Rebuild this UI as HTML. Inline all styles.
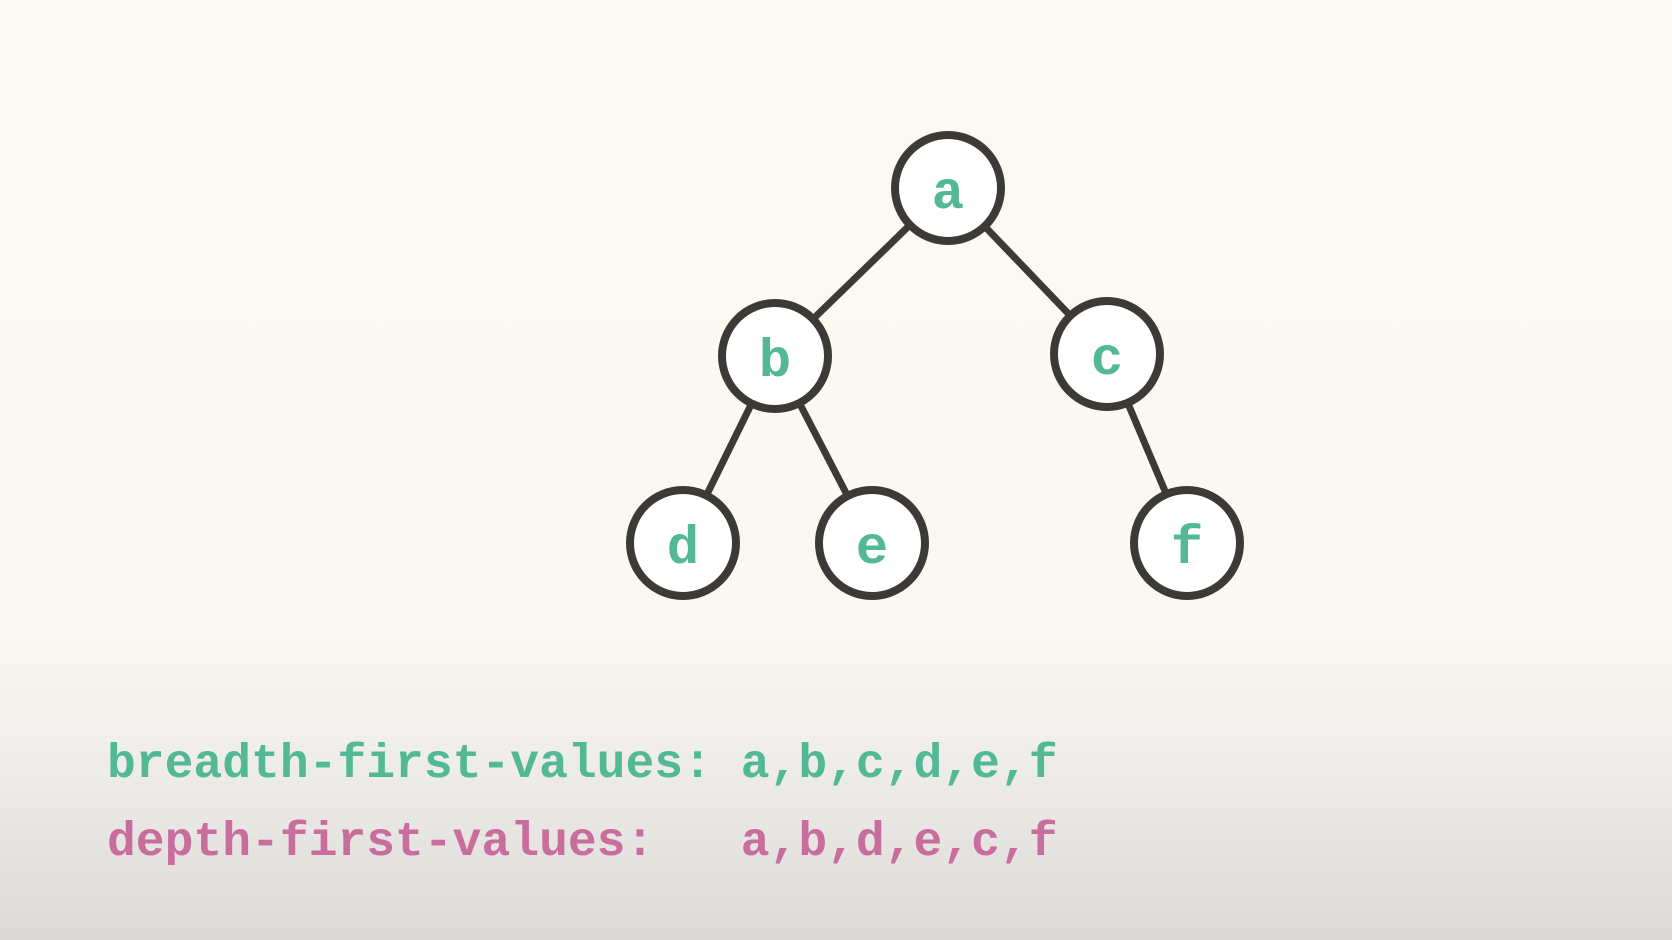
<!DOCTYPE html>
<html><head><style>
html,body{margin:0;padding:0}
body{width:1672px;height:940px;overflow:hidden;background:linear-gradient(to bottom,#fcf9f2 0px,#fbf8f1 630px,#efedea 760px,#dcdad6 940px);font-family:"Liberation Mono",monospace}
svg{position:absolute;left:0;top:0}
.t{font-family:"Liberation Mono",monospace;font-weight:bold;font-size:48px}
.n{font-family:"Liberation Mono",monospace;font-weight:bold;font-size:54px}
</style></head><body>
<svg width="1672" height="940" viewBox="0 0 1672 940">
<g stroke="#3b3a36" stroke-width="7">
<line x1="948" y1="188" x2="775" y2="356"/>
<line x1="948" y1="188" x2="1107" y2="354"/>
<line x1="775" y1="356" x2="683" y2="543"/>
<line x1="775" y1="356" x2="872" y2="543"/>
<line x1="1107" y1="354" x2="1187" y2="543"/>
</g>
<g fill="#fff" stroke="#3b3a36" stroke-width="8">
<circle cx="948" cy="188" r="53"/>
<circle cx="775" cy="356" r="53"/>
<circle cx="1107" cy="354" r="53"/>
<circle cx="683" cy="543" r="53"/>
<circle cx="872" cy="543" r="53"/>
<circle cx="1187" cy="543" r="53"/>
</g>
<g class="n" fill="#52b896" text-anchor="middle">
<text x="948" y="208">a</text>
<text x="775" y="376">b</text>
<text x="1107" y="374">c</text>
<text x="683" y="563">d</text>
<text x="872" y="563">e</text>
<text x="1187" y="563">f</text>
</g>
<text class="t" x="107" y="777" fill="#52b896" xml:space="preserve">breadth-first-values: a,b,c,d,e,f</text>
<text class="t" x="107" y="855" fill="#c86d9c" xml:space="preserve">depth-first-values:   a,b,d,e,c,f</text>
</svg>
</body></html>
